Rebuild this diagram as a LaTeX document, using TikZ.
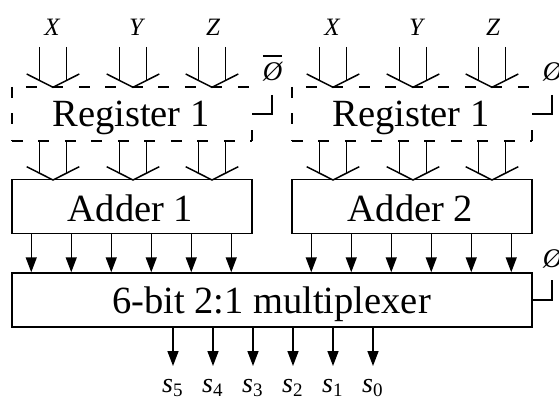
\documentclass[tikz,border=0pt]{standalone}
\usepackage{fontspec}
\setmainfont{Liberation Serif}
\usetikzlibrary{arrows.meta,calc}
\begin{document}
\begin{tikzpicture}[x=1pt,y=-1pt,
  wire/.style={line width=1.5pt},
  sig/.style={wire,-{Triangle[width=11pt,length=15pt]}},
  frame/.style={minimum width=240pt,minimum height=54pt,inner sep=0pt},
  blk/.style={frame,draw,line width=1.5pt},
  dashedge/.style={line width=1.5pt,dash pattern=on 11pt off 15.5pt},
  bigtxt/.style={font=\fontsize{38.5}{40}\selectfont,inner sep=0pt,anchor=base},
  inlbl/.style={font=\fontsize{25}{26}\selectfont\itshape,inner sep=0pt,anchor=base},
  phlbl/.style={font=\fontsize{27}{28}\selectfont\itshape,inner sep=0pt,anchor=base},
  outlbl/.style={font=\fontsize{28}{29}\selectfont\itshape,inner sep=0pt,anchor=base west}
]
\useasboundingbox (0,0) rectangle (559,401);

% blocks
\node[frame] (reg1) at (132,114) {};
\node[frame] (reg2) at (412,114) {};
\node[blk] (add1) at (132,206.5) {};
\node[blk] (add2) at (412,206.5) {};
\node[blk,minimum width=520pt] (mux) at (272,300) {};

% block captions
\node[bigtxt] (reg1t) at (131,127) {Register 1};
\node[bigtxt] (reg2t) at (411,127) {Register 1};
\node[bigtxt] (add1t) at (130.5,221) {Adder 1};
\node[bigtxt] (add2t) at (410.5,221) {Adder 2};
\node[bigtxt] (muxt) at (271.5,313) {6-bit 2:1 multiplexer};

% dashed register outlines
\foreach \r in {reg1,reg2} {
  \draw[dashedge,dash phase=12.5pt] (\r.north west) -- (\r.north east);
  \draw[dashedge] (\r.south west) -- (\r.south east);
  \draw[dashedge] (\r.north west) -- (\r.south west);
  \draw[dashedge] (\r.south east) -- ([yshift=14pt]\r.south east);
}

% input buses into the registers and register buses into the adders
\foreach \g/\rb/\ab/\cx in {a/reg1/add1/53,b/reg1/add1/133,c/reg1/add1/212,
                            d/reg2/add2/333,e/reg2/add2/413,f/reg2/add2/492} {
  \coordinate (ti\g) at (\cx,87.3);
  \coordinate (bi\g) at (\cx,180);
  \draw[wire] ($(ti\g)+(-26.3,-13.3)$) -- (ti\g) -- ($(ti\g)+(26.3,-13.3)$);
  \draw[wire] ($(ti\g)+(-13.4,-40.3)$) -- ($(ti\g)+(-13.4,-6.8)$);
  \draw[wire] ($(ti\g)+(13.4,-40.3)$) -- ($(ti\g)+(13.4,-6.8)$);
  \draw[wire] ($(bi\g)+(-26.3,-13.3)$) -- (bi\g) -- ($(bi\g)+(26.3,-13.3)$);
  \draw[wire] ($(\rb.south -| \cx,0)+(-13.4,0)$) -- ($(bi\g)+(-13.4,-6.8)$);
  \draw[wire] ($(\rb.south -| \cx,0)+(13.4,0)$) -- ($(bi\g)+(13.4,-6.8)$);
}

% input labels
\foreach \g/\cx/\t in {xa/52/X,ya/136/Y,za/213/Z,xb/332/X,yb/416/Y,zb/493/Z}
  \node[inlbl] (\g) at (\cx,36) {\t};

% adder outputs into the multiplexer
\foreach \k in {0,...,5} {
  \coordinate (a\k) at ($(add1.south west)+(20+40*\k,0)$);
  \coordinate (b\k) at ($(add2.south west)+(20+40*\k,0)$);
  \draw[sig] (a\k) -- (a\k |- mux.north);
  \draw[sig] (b\k) -- (b\k |- mux.north);
}

% multiplexer outputs
\foreach \k/\n in {0/5,1/4,2/3,3/2,4/1,5/0} {
  \coordinate (o\k) at (173+40*\k,366);
  \draw[sig] (o\k |- mux.south) -- (o\k);
  \node[outlbl] (s\n) at (162+40*\k,392)
    {s\upshape\raisebox{-4.5pt}{\fontsize{19}{19}\selectfont \n}};
}

% enable / select inputs
\node[phlbl] (en1) at (272.5,81) {\vbox{\hrule height 2pt\kern 6pt\hbox{Ø}}};
\node[phlbl] (en2) at (552.5,81) {Ø};
\node[phlbl] (sel) at (552.5,267) {Ø};
\coordinate (e1) at (272,95);
\coordinate (e2) at (552,95);
\coordinate (e3) at (552,280);
\draw[wire] (e1) |- (reg1.east);
\draw[wire] (e2) |- (reg2.east);
\draw[wire] (e3) |- (mux.east);
\end{tikzpicture}
\end{document}
